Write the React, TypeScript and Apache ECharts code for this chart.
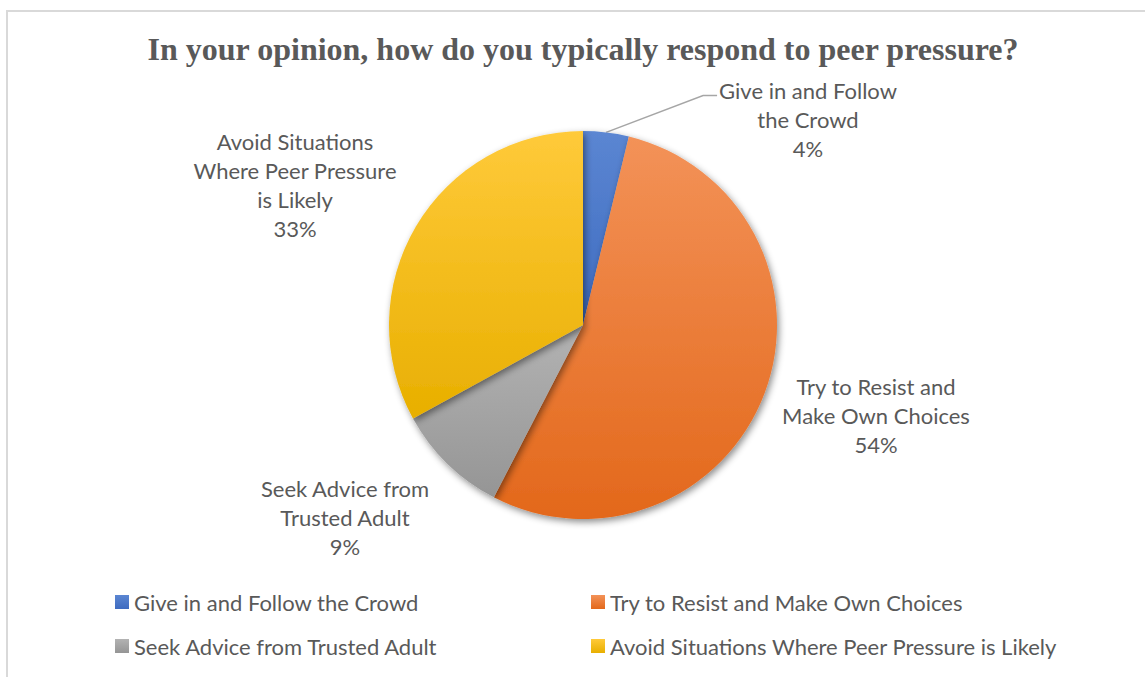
import React, { useEffect, useRef } from "react";
import * as echarts from "echarts";

const titleText = "In your opinion, how do you typically respond to peer pressure?";
const categories = [
  "Give in and Follow the Crowd",
  "Try to Resist and Make Own Choices",
  "Seek Advice from Trusted Adult",
  "Avoid Situations Where Peer Pressure is Likely",
];
const labelLines = [
  "Give in and Follow\nthe Crowd",
  "Try to Resist and\nMake Own Choices",
  "Seek Advice from\nTrusted Adult",
  "Avoid Situations\nWhere Peer Pressure\nis Likely",
];
const values = [3.8, 53.8, 9.4, 33.0];
const topColors = ["#5B86D2", "#F39258", "#B3B3B3", "#FFCA3A"];
const bottomColors = ["#3E6BC0", "#E3681B", "#959595", "#E8AF00"];
const labelPositions = [
  [808, 119],
  [876, 415],
  [345, 517],
  [295, 184.5],
];
const legendPositions = [
  [115, 591],
  [591, 591],
  [115, 635],
  [591, 635],
];

const CENTER = [583, 325];
const RADIUS = 194;
const LINE_H = 29;
const FONT_SIZE = 22;
const FONT = "Lato, 'Open Sans', sans-serif";
const TEXT_COLOR = "#595959";

export default function App() {
  const ref = useRef<HTMLDivElement>(null);
  useEffect(() => {
    document.body.style.margin = "0";
    if (!ref.current) return;
    const chart = echarts.init(ref.current, undefined, { renderer: "svg" });
    const total = values.reduce((a, b) => a + b, 0);
    const data = categories.map((name, i) => ({
      name,
      value: values[i],
      itemStyle: {
        color: {
          type: "linear",
          x: 0,
          y: 0,
          x2: 0,
          y2: 1,
          colorStops: [
            { offset: 0, color: topColors[i] },
            { offset: 1, color: bottomColors[i] },
          ],
        },
      },
      labelLine: { show: i === 0 },
    }));
    chart.setOption({
      animation: false,
      backgroundColor: "#ffffff",
      title: {
        text: titleText,
        left: 578,
        top: 28,
        textAlign: "center",
        textStyle: {
          fontFamily: "'Liberation Serif', 'Times New Roman', serif",
          fontWeight: "bold",
          fontSize: 32,
          color: TEXT_COLOR,
        },
      },
      graphic: [
        {
          type: "rect",
          shape: { x: 7, y: 11, width: 1300, height: 900 },
          style: { fill: "none", stroke: "#d9d9d9", lineWidth: 2 },
          silent: true,
        },
      ],
      legend: categories.map((name, i) => ({
        data: [name],
        left: legendPositions[i][0],
        top: legendPositions[i][1],
        padding: 0,
        icon: "rect",
        itemWidth: 14,
        itemHeight: 14,
        selectedMode: false,
        textStyle: {
          fontFamily: FONT,
          fontSize: FONT_SIZE,
          lineHeight: 22,
          color: TEXT_COLOR,
        },
      })),
      series: [
        {
          type: "pie",
          center: CENTER,
          radius: RADIUS,
          startAngle: 90,
          clockwise: true,
          avoidLabelOverlap: false,
          data,
          itemStyle: {
            shadowBlur: 7,
            shadowOffsetX: 2,
            shadowOffsetY: 3,
            shadowColor: "rgba(0,0,0,0.45)",
          },
          label: {
            show: true,
            position: "outside",
            fontFamily: FONT,
            fontSize: FONT_SIZE,
            lineHeight: LINE_H,
            color: TEXT_COLOR,
            align: "center",
            formatter: (p: any) =>
              labelLines[p.dataIndex] + "\n" + Math.round(p.percent) + "%",
          },
          labelLine: {
            show: false,
            length: 20,
            length2: 10,
            lineStyle: { color: "#a6a6a6", width: 1.5 },
          },
          labelLayout: (params: any) => {
            const i = params.dataIndex;
            const [x, y] = labelPositions[i];
            const res: any = { x, y, align: "center", verticalAlign: "middle" };
            if (i === 0) {
              const w = params.labelRect.width;
              const h = params.labelRect.height;
              const left = x - w / 2;
              const lineY = y - h / 2 + 20;
              const midAngle = ((90 - (values[0] / total) * 180) * Math.PI) / 180;
              const start =
                params.labelLinePoints && params.labelLinePoints[0]
                  ? params.labelLinePoints[0]
                  : [
                      CENTER[0] + RADIUS * Math.cos(midAngle),
                      CENTER[1] - RADIUS * Math.sin(midAngle),
                    ];
              res.labelLinePoints = [start, [left - 16, lineY], [left - 2, lineY]];
            }
            return res;
          },
        },
      ],
    });
    return () => chart.dispose();
  }, []);
  return <div ref={ref} style={{ width: 1145, height: 677 }} />;
}
